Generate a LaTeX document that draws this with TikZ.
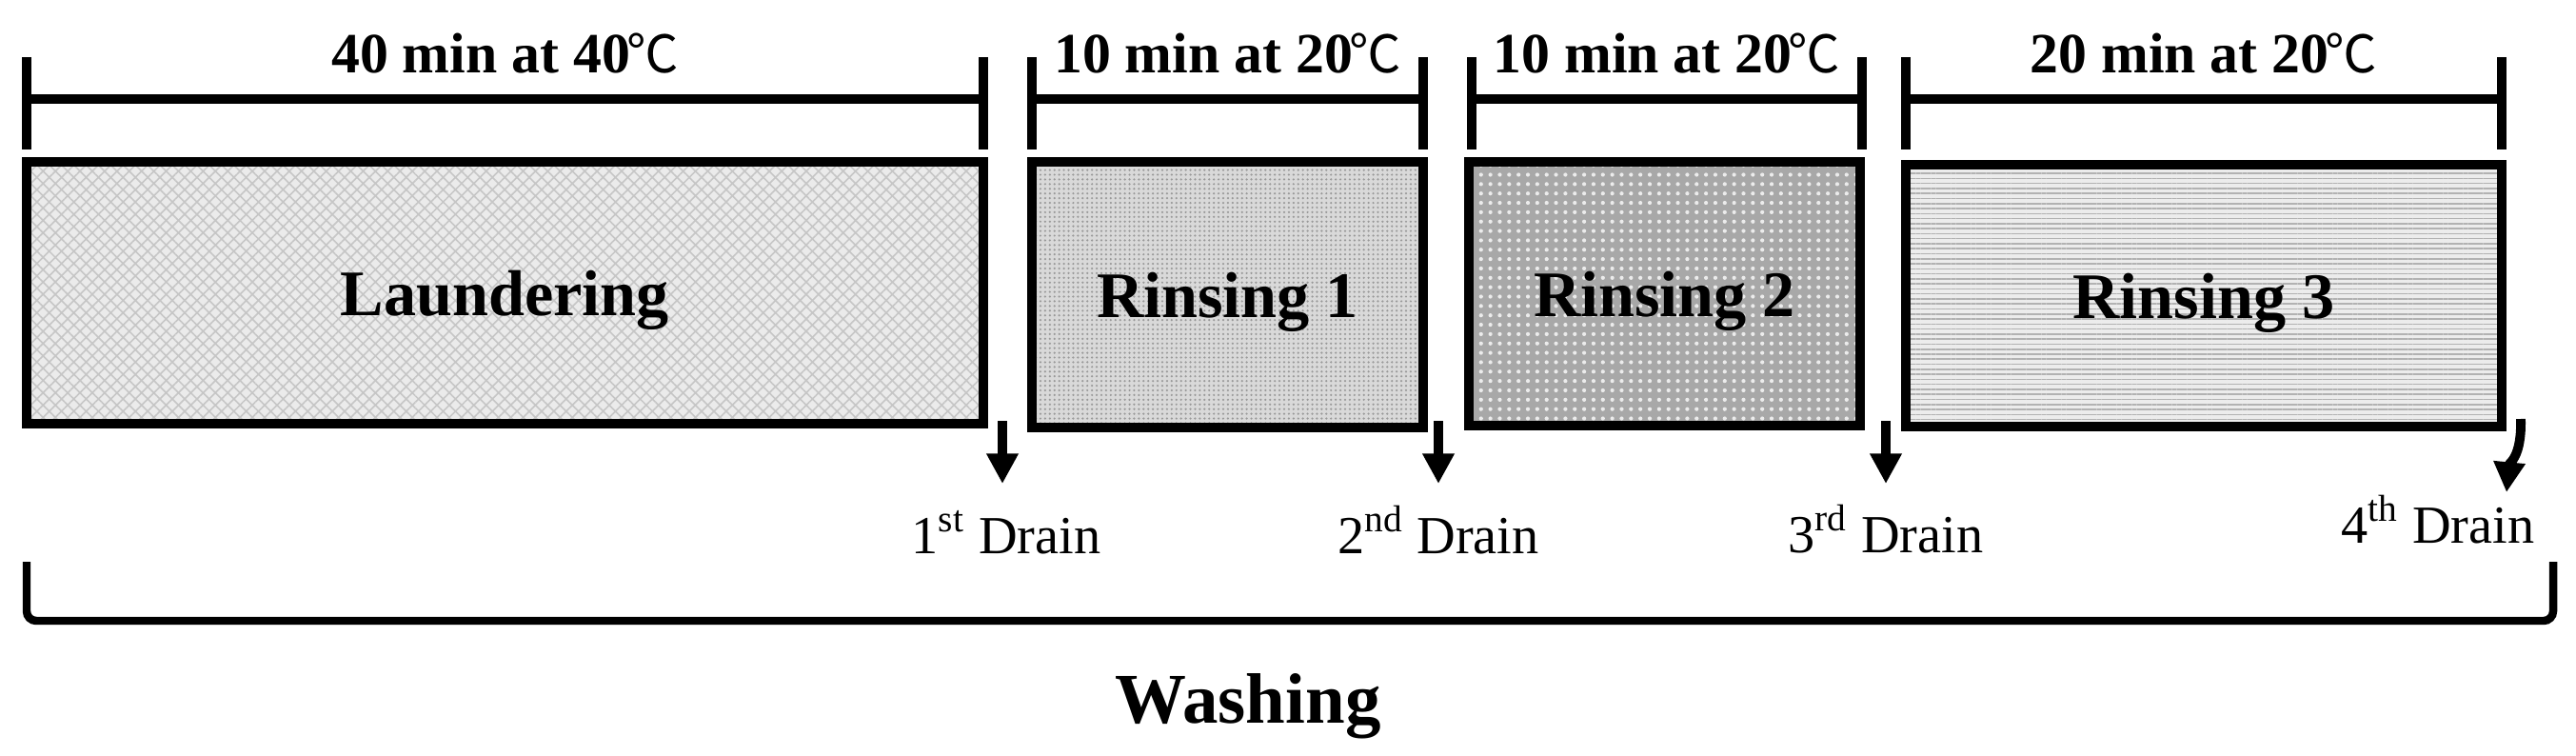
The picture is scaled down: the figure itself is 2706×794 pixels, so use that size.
\documentclass[tikz,border=0pt]{standalone}
\usepackage{fontspec}
\setmainfont{Liberation Serif}
\newfontfamily\cjkfont{Noto Sans CJK SC}
\usetikzlibrary{arrows.meta,patterns.meta}
\tikzset{
  boxnode/.style={draw, line width=2.8pt, inner sep=0pt, text depth=0pt,
    font=\fontsize{19.4pt}{22pt}\selectfont\bfseries},
  barline/.style={line width=2.6pt},
  durlabel/.style={font=\fontsize{17pt}{20pt}\selectfont\bfseries, anchor=base, inner sep=0pt},
  drainlabel/.style={font=\fontsize{16pt}{19pt}\selectfont, anchor=base, inner sep=0pt},
  drainarrow/.style={line width=2.8pt, -{Triangle[width=9pt,length=9pt]}},
  bracket/.style={line width=2.4pt, rounded corners=0.1cm},
}
\newcommand{\degc}{\kern-0.06em{\cjkfont\mdseries\fontsize{15.5pt}{18pt}\selectfont ℃}}
\begin{document}
\begin{tikzpicture}[x=0.01cm, y=-0.01cm]
\fill[white] (0,0) rectangle (2706,794);
\useasboundingbox (0,0) rectangle (2706,794);

% duration bars
\foreach \a/\b in {28/1033,1084/1495,1546/1956,2002/2628}
  \draw[barline] (\a,60) -- (\a,157) (\a,104) -- (\b,104) (\b,60) -- (\b,157);

\node[durlabel] (t1) at (530.5,77) {40 min at 40\degc};
\node[durlabel] (t2) at (1289.5,77) {10 min at 20\degc};
\node[durlabel] (t3) at (1751,77) {10 min at 20\degc};
\node[durlabel] (t4) at (2315,77) {20 min at 20\degc};

% process boxes
\node[boxnode, minimum width=10.05cm, minimum height=2.75cm,
  preaction={fill=gray!16}, pattern={Hatch[angle=45,distance=2.6pt,line width=0.45pt]},
  pattern color=gray!45] (laund) at (530.5,307.5) {Laundering};
\node[boxnode, minimum width=4.11cm, minimum height=2.79cm,
  preaction={fill=gray!30}, pattern={Dots[distance=1.4pt,radius=0.35pt]},
  pattern color=gray!80] (rin1) at (1289.5,309.5) {Rinsing 1};
\node[boxnode, minimum width=4.11cm, minimum height=2.77cm,
  preaction={fill=gray!68}, pattern={Dots[distance=2.8pt,radius=0.6pt]},
  pattern color=gray!15] (rin2) at (1748.5,308.5) {Rinsing 2};
\node[boxnode, minimum width=6.26cm, minimum height=2.75cm,
  preaction={fill=gray!15}, pattern={Lines[angle=0,distance=1.5pt,line width=0.45pt]},
  pattern color=gray!60] (rin3) at (2315,310.5) {Rinsing 3};

% drain labels
\node[drainlabel] (d1) at (1057,581) {1\textsuperscript{st} Drain};
\node[drainlabel] (d2) at (1511,581) {2\textsuperscript{nd} Drain};
\node[drainlabel] (d3) at (1981,580) {3\textsuperscript{rd} Drain};
\node[drainlabel] (d4) at (2561,570) {4\textsuperscript{th} Drain};

% drain arrows
\coordinate (a1s) at (1053,442); \coordinate (a1e) at (1053,508);
\coordinate (a2s) at (1511,442); \coordinate (a2e) at (1511,508);
\coordinate (a3s) at (1981,442); \coordinate (a3e) at (1981,508);
\coordinate (a4s) at (2648,440); \coordinate (a4e) at (2633,517);
\draw[drainarrow] (a1s) -- (a1e);
\draw[drainarrow] (a2s) -- (a2e);
\draw[drainarrow] (a3s) -- (a3e);
\draw[drainarrow] (a4s) .. controls (2649,480) and (2636,486) .. (a4e);

% overall bracket
\coordinate (bl) at (28,590); \coordinate (br) at (2682,590);
\draw[bracket] (bl) -- (28,652) -- (2682,652) -- (br);
\node[font=\fontsize{21.3pt}{24pt}\selectfont\bfseries, anchor=base, inner sep=0pt] (wash) at (1311,759) {Washing};
\end{tikzpicture}
\end{document}
